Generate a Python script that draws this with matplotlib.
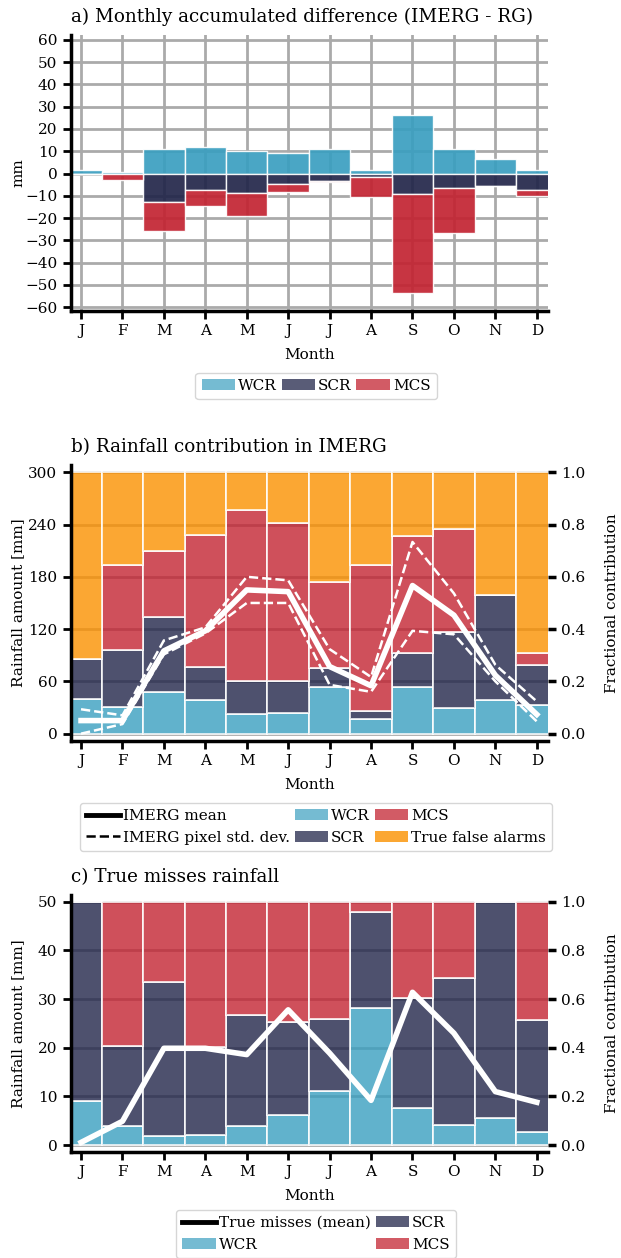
import numpy as np
import matplotlib.pyplot as plt
from matplotlib.lines import Line2D
from matplotlib.patches import Patch

plt.rcParams['font.family'] = ['DejaVu Serif']
plt.rcParams['font.size'] = 11

months = ['J', 'F', 'M', 'A', 'M', 'J', 'J', 'A', 'S', 'O', 'N', 'D']

# a) monthly accumulated difference IMERG - RG [mm]
wcr_diff = [1.5, 0.6, 10.8, 12.1, 10.3, 9.0, 10.9, 1.6, 26.3, 10.8, 6.4, 1.6]
scr_diff = [0.0, -0.4, -12.6, -7.2, -8.8, -4.5, -3.4, -1.5, -9.4, -6.3, -5.8, -7.3]
mcs_diff = [0.0, -2.6, -13.1, -7.2, -10.1, -3.7, -0.6, -9.1, -44.3, -20.5, 0.0, -3.0]

# b) fractional contribution in IMERG
wcr_frac_b = [0.134, 0.101, 0.158, 0.129, 0.075, 0.079, 0.177, 0.056, 0.177, 0.099, 0.129, 0.111]
scr_frac_b = [0.150, 0.219, 0.290, 0.125, 0.127, 0.123, 0.073, 0.031, 0.132, 0.289, 0.403, 0.153]
mcs_frac_b = [0.000, 0.325, 0.250, 0.506, 0.654, 0.603, 0.330, 0.557, 0.447, 0.395, 0.000, 0.043]
tfa_frac_b = [0.716, 0.355, 0.302, 0.240, 0.144, 0.195, 0.420, 0.356, 0.244, 0.217, 0.468, 0.693]
imerg_mean = [15, 15, 95, 118, 165, 163, 77, 55, 170, 136, 67, 22]
imerg_upper = [28, 21, 107, 122, 180, 176, 97, 65, 220, 161, 79, 37]
imerg_lower = [0, 11, 91, 115, 150, 150, 56, 48, 118, 114, 60, 14]

# c) true misses
wcr_frac_c = [0.180, 0.077, 0.038, 0.043, 0.077, 0.125, 0.221, 0.565, 0.151, 0.084, 0.110, 0.053]
scr_frac_c = [0.820, 0.332, 0.633, 0.359, 0.457, 0.380, 0.299, 0.394, 0.454, 0.603, 0.890, 0.461]
mcs_frac_c = [0.000, 0.591, 0.329, 0.598, 0.466, 0.495, 0.480, 0.041, 0.395, 0.313, 0.000, 0.486]
misses_mean = [0.55, 4.9, 19.9, 19.9, 18.6, 27.8, 18.9, 9.2, 31.4, 23.0, 11.0, 8.8]

c_wcr = '#3a9fc0'
c_scr = '#22264a'
c_mcs = '#c32432'
c_tfa = '#fb9100'
grid_c = '#aaaaaa'
x = np.arange(12)
XL = (-0.25, 11.27)

fig = plt.figure(figsize=(6.21, 12.58), dpi=100)
L, W = 0.1138, 0.7686
ax_a = fig.add_axes([L, 0.7528, W, 0.2194])
ax_b = fig.add_axes([L, 0.4112, W, 0.2192])
ax_c = fig.add_axes([L, 0.0845, W, 0.2041])


def style_left(ax):
    for s in ['top', 'right']:
        ax.spines[s].set_visible(False)
    for s in ['left', 'bottom']:
        ax.spines[s].set_linewidth(2.5)
    ax.tick_params(width=2, length=6)


# ---- a ----
ax_a.set_axisbelow(True)
ax_a.grid(True, color=grid_c, lw=2)
ax_a.bar(x, wcr_diff, width=1, color=c_wcr, alpha=0.92, edgecolor='white', lw=1)
ax_a.bar(x, scr_diff, width=1, color=c_scr, alpha=0.92, edgecolor='white', lw=1)
ax_a.bar(x, mcs_diff, width=1, bottom=scr_diff, color=c_mcs, alpha=0.92, edgecolor='white', lw=1)
ax_a.set_xlim(*XL)
ax_a.set_ylim(-61.7, 62.2)
ax_a.set_yticks(np.arange(-60, 61, 10))
ax_a.set_xticks(x)
ax_a.set_xticklabels(months)
ax_a.set_ylabel('mm')
ax_a.yaxis.set_label_coords(-0.095, 0.5)
ax_a.set_xlabel('Month', labelpad=7)
ax_a.set_title('a) Monthly accumulated difference (IMERG - RG)', loc='left', fontsize=13.25, pad=9)
style_left(ax_a)

leg_patches = [Patch(facecolor=c_wcr, alpha=0.7, label='WCR'),
               Patch(facecolor=c_scr, alpha=0.75, label='SCR'),
               Patch(facecolor=c_mcs, alpha=0.75, label='MCS')]
fig.legend(handles=leg_patches, loc='upper center', bbox_to_anchor=(0.509, 0.7035),
           ncol=3, handletextpad=0.2, columnspacing=0.3, handlelength=2.2, fontsize=11,
           borderaxespad=0)


# ---- b and c ----
def stacked(ax, fracs, colors, line, ytop, yticks, title):
    ax2 = ax.twinx()
    ax2.set_zorder(ax.get_zorder() - 1)
    ax.patch.set_visible(False)
    ax2.set_axisbelow(True)
    ax2.yaxis.grid(True, color=grid_c, lw=2)
    bottom = np.zeros(12)
    for f, c in zip(fracs, colors):
        ax2.bar(x, f, width=1, bottom=bottom, color=c, alpha=0.8, edgecolor='white', lw=1.4)
        bottom += np.array(f)
    ax2.set_ylim(-0.027, 1.028)
    ax2.set_yticks(np.arange(0, 1.01, 0.2))
    ax2.set_yticklabels([f'{v:.1f}' for v in np.arange(0, 1.01, 0.2)])
    ax2.set_ylabel('Fractional contribution')
    ax2.yaxis.set_label_coords(1.12, 0.5)
    for s in ax2.spines.values():
        s.set_visible(False)
    ax2.tick_params(width=2.5, length=6)
    ax.set_ylim(-0.027 * ytop, 1.028 * ytop)
    ax.set_yticks(yticks)
    ax.set_xlim(*XL)
    ax.set_xticks(x)
    ax.set_xticklabels(months)
    ax.set_xlabel('Month', labelpad=7)
    ax.set_ylabel('Rainfall amount [mm]')
    ax.yaxis.set_label_coords(-0.095, 0.5)
    ax.set_title(title, loc='left', fontsize=13.25, pad=9)
    ax.plot(x, line, color='white', lw=4, zorder=5)
    style_left(ax)
    return ax2


stacked(ax_b, [wcr_frac_b, scr_frac_b, mcs_frac_b, tfa_frac_b], [c_wcr, c_scr, c_mcs, c_tfa],
        imerg_mean, 300, np.arange(0, 301, 60), 'b) Rainfall contribution in IMERG')
ax_b.plot(x, imerg_upper, color='white', lw=1.8, ls='--', zorder=5)
ax_b.plot(x, imerg_lower, color='white', lw=1.8, ls='--', zorder=5)

handles_b = [Line2D([], [], color='black', lw=3.5, label='IMERG mean'),
             Line2D([], [], color='black', lw=1.8, ls='--', label='IMERG pixel std. dev.'),
             Patch(facecolor=c_wcr, alpha=0.7, label='WCR'),
             Patch(facecolor=c_scr, alpha=0.75, label='SCR'),
             Patch(facecolor=c_mcs, alpha=0.75, label='MCS'),
             Patch(facecolor=c_tfa, alpha=0.8, label='True false alarms')]
fig.legend(handles=handles_b, loc='upper center', bbox_to_anchor=(0.509, 0.3617),
           ncol=3, handletextpad=0.2, columnspacing=0.3, handlelength=2.2, fontsize=11,
           borderaxespad=0)

stacked(ax_c, [wcr_frac_c, scr_frac_c, mcs_frac_c], [c_wcr, c_scr, c_mcs],
        misses_mean, 50, np.arange(0, 51, 10), 'c) True misses rainfall')

handles_c = [Line2D([], [], color='black', lw=3.5, label='True misses (mean)'),
             Patch(facecolor=c_wcr, alpha=0.7, label='WCR'),
             Patch(facecolor=c_scr, alpha=0.75, label='SCR'),
             Patch(facecolor=c_mcs, alpha=0.75, label='MCS')]
fig.legend(handles=handles_c, loc='upper center', bbox_to_anchor=(0.509, 0.0382),
           ncol=2, handletextpad=0.2, columnspacing=0.3, handlelength=2.2, fontsize=11,
           borderaxespad=0)

fig.savefig('out.png', dpi=100)
